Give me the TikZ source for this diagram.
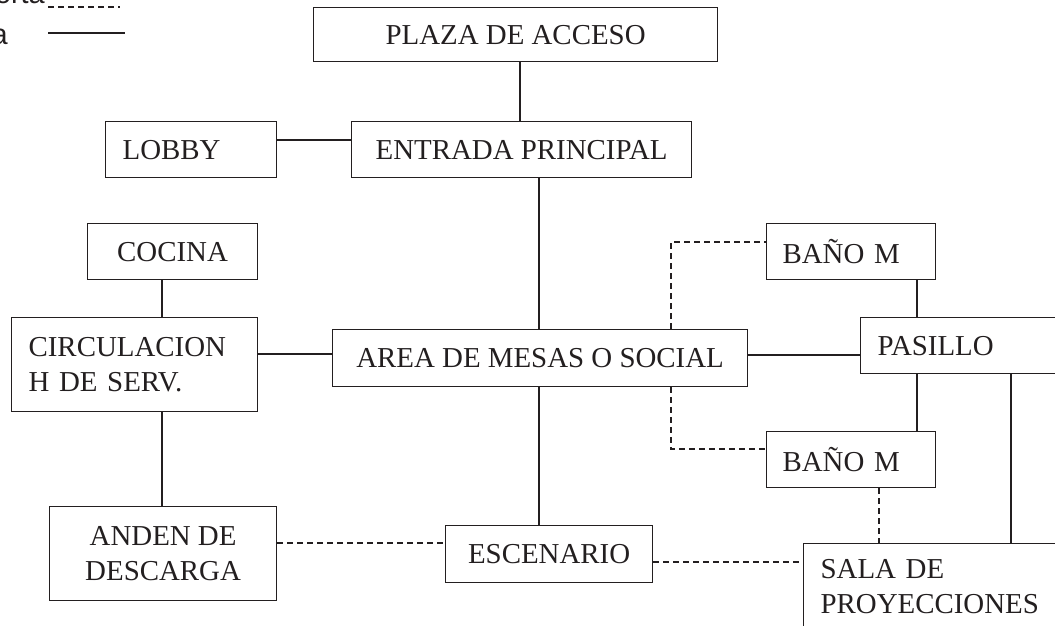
\documentclass[tikz,border=0pt]{standalone}
\usepackage{fontspec}
\setmainfont{Liberation Serif}
\newfontfamily\legendfont{Liberation Sans}
\definecolor{ink}{RGB}{35,31,32}
\tikzset{
  box/.style={draw=ink, text=ink, line width=1.2bp, inner sep=0pt, anchor=north west,
    font=\fontsize{29}{35}\selectfont, align=center},
  lbox/.style={box, align=left, inner xsep=17bp},
  conn/.style={draw=ink, line width=1.2bp},
  dconn/.style={conn, dash pattern=on 6bp off 4bp},
  legtext/.style={text=ink, inner sep=0pt, font=\legendfont\fontsize{29}{35}\selectfont}
}
\begin{document}
\begin{tikzpicture}[x=1bp,y=-1bp]
\useasboundingbox (0,0) rectangle (1055,626);
\clip (0,0) rectangle (1055,626);
\fill[white] (0,0) rectangle (1055,626);

% legend (cropped)
\node[legtext, anchor=base east] (legA) at (45,4) {orta};
\node[legtext, anchor=base east] (legB) at (8,45) {a};
\coordinate (ld1) at (48,7);
\coordinate (ld2) at (120,7);
\coordinate (ls1) at (48,33);
\coordinate (ls2) at (125,33);
\draw[dconn] (ld1) -- (ld2);
\draw[conn] (ls1) -- (ls2);

% boxes
\node[box, minimum width=404bp, minimum height=54bp] (plaza) at (313,7) {PLAZA DE ACCESO};
\node[box, minimum width=340bp, minimum height=56bp] (entrada) at (351,121) {ENTRADA PRINCIPAL};
\node[lbox, text width=137bp, minimum height=56bp] (lobby) at (105,121) {LOBBY};
\node[box, minimum width=170bp, minimum height=56bp] (cocina) at (87,223) {COCINA};
\node[lbox, text width=212bp, minimum height=94bp] (circ) at (11,317) {CIRCULACION\\H DE SERV.};
\node[box, minimum width=227bp, minimum height=94bp] (anden) at (49,506) {ANDEN DE\\DESCARGA};
\node[box, minimum width=415bp, minimum height=57bp] (area) at (332,329) {AREA DE MESAS O SOCIAL};
\node[box, minimum width=207bp, minimum height=57bp] (escen) at (445,525) {ESCENARIO};
\node[lbox, inner xsep=16bp, text width=137bp, minimum height=56bp] (bano1) at (766,223) {BAÑO M};
\node[lbox, text width=186bp, minimum height=56bp] (pasillo) at (860,317) {PASILLO};
\node[lbox, inner xsep=16bp, text width=137bp, minimum height=56bp] (bano2) at (766,431) {BAÑO M};
\node[lbox, text width=246bp, minimum height=86bp] (sala) at (803,543) {SALA DE\\PROYECCIONES};

% connectors
\draw[conn] (plaza.south -| 520,0) -- (entrada.north -| 520,0);
\draw[conn] (lobby.east |- 0,140) -- (entrada.west |- 0,140);
\draw[conn] (entrada.south -| 539,0) -- (area.north -| 539,0);
\draw[conn] (cocina.south -| 162,0) -- (circ.north -| 162,0);
\draw[conn] (circ.south -| 162,0) -- (anden.north -| 162,0);
\draw[conn] (circ.east |- 0,354) -- (area.west |- 0,354);
\draw[dconn] (anden.east |- 0,543) -- (escen.west |- 0,543);
\draw[conn] (area.south -| 539,0) -- (escen.north -| 539,0);
\draw[dconn] (escen.east |- 0,562) -- (sala.west |- 0,562);
\draw[dconn] (area.north -| 671,0) |- (bano1.west |- 0,242);
\draw[dconn] (area.south -| 671,0) |- (bano2.west |- 0,449);
\draw[conn] (area.east |- 0,355) -- (pasillo.west |- 0,355);
\draw[conn] (bano1.south -| 917,0) -- (pasillo.north -| 917,0);
\draw[conn] (pasillo.south -| 917,0) -- (bano2.north -| 917,0);
\draw[conn] (pasillo.south -| 1011,0) -- (sala.north -| 1011,0);
\draw[dconn] (bano2.south -| 879,0) -- (sala.north -| 879,0);
\end{tikzpicture}
\end{document}
